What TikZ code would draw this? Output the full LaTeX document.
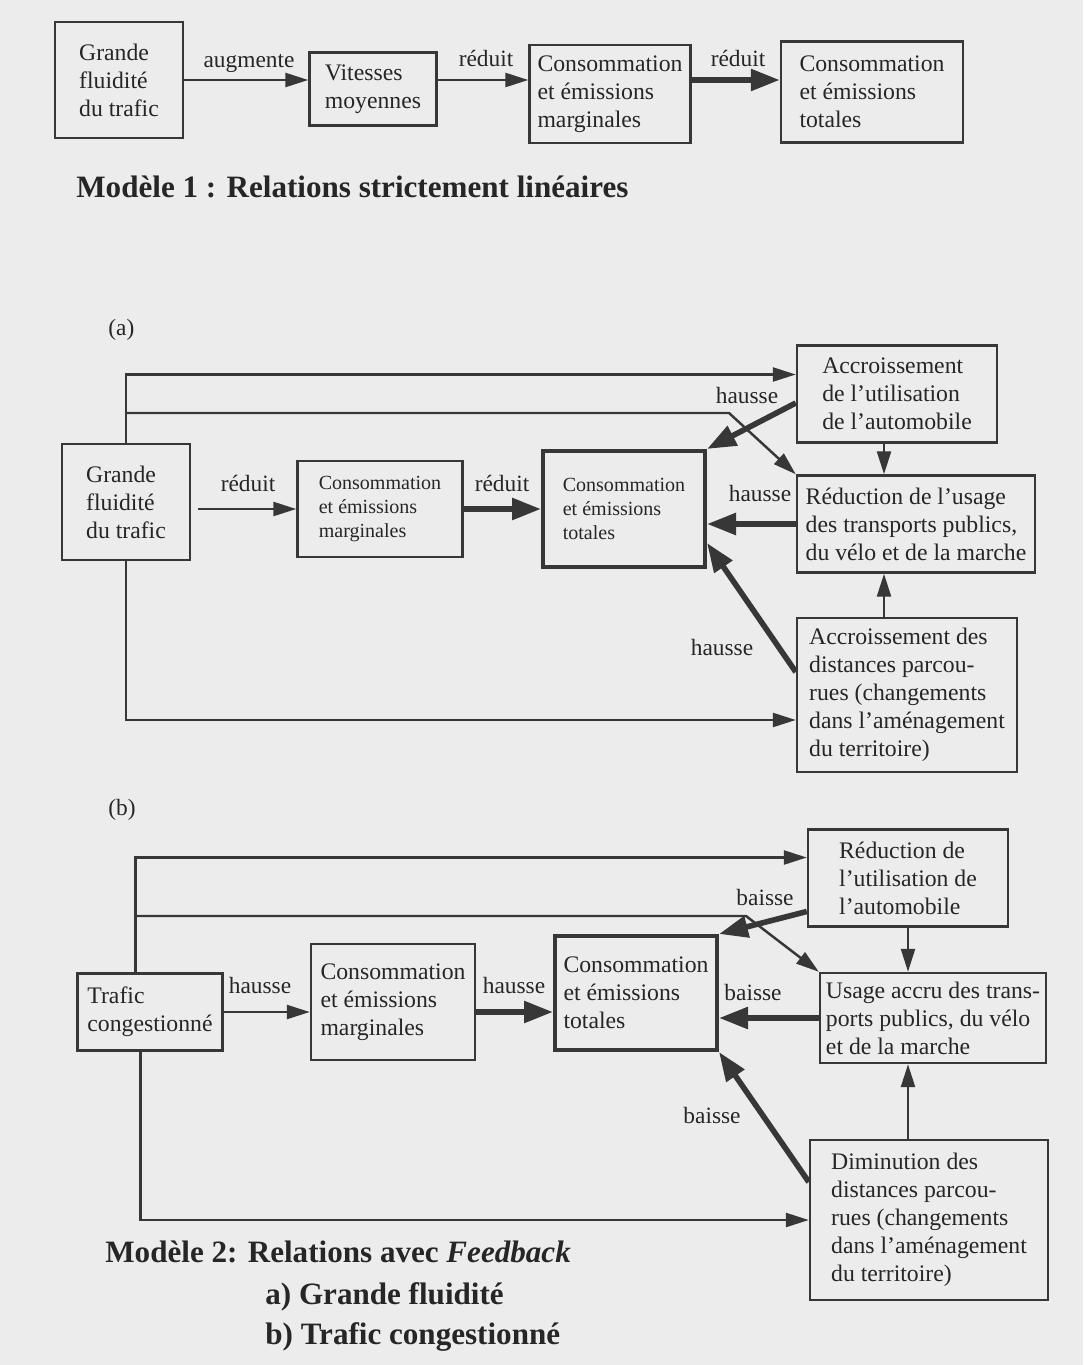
\documentclass[tikz,border=0pt]{standalone}
\usepackage{fontspec}
\setmainfont{Liberation Serif}
\usepackage{xcolor}
\usepackage{tikz}
\usetikzlibrary{arrows.meta,calc}
\definecolor{paperbg}{RGB}{236,236,236}
\definecolor{inkcolor}{RGB}{55,55,55}
\definecolor{txtcolor}{RGB}{38,38,38}

\begin{document}
\begin{tikzpicture}[
  x=0.02cm, y=-0.02cm,
  box/.style={draw=inkcolor, line width=1.4pt, align=left, inner sep=0pt, text=txtcolor, font=\fontsize{13.5}{16}\selectfont},
  sbox/.style={box, font=\fontsize{11.4}{13.6}\selectfont},
  tot/.style={line width=2.3pt},
  arr/.style={-{Triangle[length=4.6mm, width=2.8mm]}, line width=1.4pt, draw=inkcolor},
  barr/.style={-{Triangle[length=5.8mm, width=4.2mm]}, line width=3.2pt, draw=inkcolor},
  lbl/.style={font=\fontsize{13.3}{15}\selectfont, text=txtcolor, inner sep=0pt},
  ttl/.style={font=\fontsize{17.7}{20}\selectfont\bfseries, text=txtcolor, inner sep=0pt},
]
\fill[paperbg] (0,0) rectangle (1083,1365);

% Modele 1
\node[box, minimum width=2.56cm, minimum height=2.32cm] (m1flu) at (119,80) {Grande\\fluidité\\du trafic};
\node[box, minimum width=2.54cm, minimum height=1.46cm] (m1vit) at (373,89) {Vitesses\\moyennes};
\node[box, minimum width=3.22cm, minimum height=1.96cm] (m1mar) at (610,94) {Consommation\\et émissions\\marginales};
\node[box, minimum width=3.64cm, minimum height=2.02cm] (m1tot) at (872,92) {Consommation\\et émissions\\totales};
\draw[arr] (m1flu.east) -- (m1flu.east -| m1vit.west);
\draw[arr] (m1vit.east |- m1flu.east) -- (m1mar.west |- m1flu.east);
\draw[barr] (m1mar.east |- m1flu.east) -- (m1tot.west |- m1flu.east);
\foreach \n/\x/\y/\t in {aug/249/63/augmente, redA/486/58/réduit, redB/738/58/réduit} {
  \node[lbl] (l1\n) at (\x,\y) {\t};
}
\node[ttl, anchor=west] (m1title) at (76,187) {Modèle 1 : Relations strictement linéaires};

% (a) grande fluidite
\node[lbl, anchor=west] (tagA) at (108,330) {(a)};
\node[box, minimum width=2.56cm, minimum height=2.32cm] (aflu) at (126,502) {Grande\\fluidité\\du trafic};
\node[sbox, minimum width=3.3cm, minimum height=1.92cm] (amar) at (380,509) {Consommation\\et émissions\\marginales};
\node[sbox, tot, minimum width=3.24cm, minimum height=2.32cm] (atot) at (624,509) {Consommation\\et émissions\\totales};
\node[box, minimum width=4.0cm, minimum height=1.94cm] (aauto) at (897,394) {Accroissement\\de l’utilisation\\de l’automobile};
\node[box, minimum width=4.76cm, minimum height=1.94cm] (apub) at (916,524) {Réduction de l’usage\\des transports publics,\\du vélo et de la marche};
\node[box, minimum width=4.4cm, minimum height=3.08cm] (adist) at (907,695) {Accroissement des\\distances parcou-\\rues (changements\\dans l’aménagement\\du territoire)};
\coordinate (abend) at (729,413);
\draw[arr] (aflu.north) |- ([yshift=0.39cm]aauto.west);
\draw[arr] (aflu.north |- abend) -- (abend) -- (apub.north west);
\draw[barr] ([yshift=-0.18cm]aauto.west) -- (atot.north east);
\draw[arr] ([xshift=-0.26cm]aauto.south) -- ([xshift=-0.26cm]aauto.south |- apub.north);
\draw[barr] (apub.west) -- (apub.west -| atot.east);
\draw[arr] ([xshift=0.14cm]aflu.east |- amar.west) -- (amar.west);
\draw[barr] (amar.east) -- (atot.west);
\draw[barr] ([yshift=0.46cm]adist.west) -- ([yshift=-0.68cm]atot.east);
\draw[arr] ([xshift=-0.46cm]adist.north) -- ([xshift=-0.46cm]adist.north |- apub.south);
\draw[arr] (aflu.south) |- ([yshift=-0.5cm]adist.west);
\foreach \n/\x/\y/\t in {redA/248/483/réduit, redB/502/483/réduit, hauA/747/396/hausse, hauB/760/494/hausse, hauC/722/648/hausse} {
  \node[lbl] (la\n) at (\x,\y) {\t};
}

% (b) trafic congestionne
\node[lbl, anchor=west] (tagB) at (108,810) {(b)};
\node[box, minimum width=2.9cm, minimum height=1.54cm] (bcon) at (150,1012) {Trafic\\congestionné};
\node[box, minimum width=3.28cm, minimum height=2.32cm] (bmar) at (393,1002) {Consommation\\et émissions\\marginales};
\node[box, tot, minimum width=3.24cm, minimum height=2.28cm] (btot) at (636,993) {Consommation\\et émissions\\totales};
\node[box, minimum width=4.0cm, minimum height=1.94cm] (bauto) at (908,878) {Réduction de\\l’utilisation de\\l’automobile};
\node[box, minimum width=4.52cm, minimum height=1.8cm] (bpub) at (933,1018) {Usage accru des trans-\\ports publics, du vélo\\et de la marche};
\node[box, minimum width=4.76cm, minimum height=3.2cm] (bdist) at (929,1220) {Diminution des\\distances parcou-\\rues (changements\\dans l’aménagement\\du territoire)};
\coordinate (bbend) at (746,916);
\draw[arr] ([xshift=-0.29cm]bcon.north) |- ([yshift=0.41cm]bauto.west);
\draw[arr] ([xshift=-0.29cm]bcon.north |- bbend) -- (bbend) -- (bpub.north west);
\draw[barr] ([yshift=-0.67cm]bauto.west) -- (btot.north east);
\draw[arr] (bauto.south) -- (bauto.south |- bpub.north);
\draw[barr] (bpub.west) -- (bpub.west -| btot.east);
\draw[arr] (bcon.east) -- (bcon.east -| bmar.west);
\draw[barr] (bmar.east |- bcon.east) -- (btot.west |- bcon.east);
\draw[barr] ([yshift=0.76cm]bdist.west) -- (btot.south east);
\draw[arr] (bauto.south |- bdist.north) -- (bauto.south |- bpub.south);
\draw[arr] ([xshift=-0.19cm]bcon.south) |- (bdist.west);
\foreach \n/\x/\y/\t in {hauA/260/985/hausse, hauB/514/985/hausse, baiA/765/897/baisse, baiB/753/992/baisse, baiC/712/1115/baisse} {
  \node[lbl] (lb\n) at (\x,\y) {\t};
}
\node[ttl, anchor=west] (m2title) at (105,1252) {Modèle 2: Relations avec \textit{Feedback}};
\node[ttl, anchor=west] (m2a) at (265,1297) {a) Grande fluidité};
\node[ttl, anchor=west] (m2b) at (265,1337) {b) Trafic congestionné};
\end{tikzpicture}
\end{document}
